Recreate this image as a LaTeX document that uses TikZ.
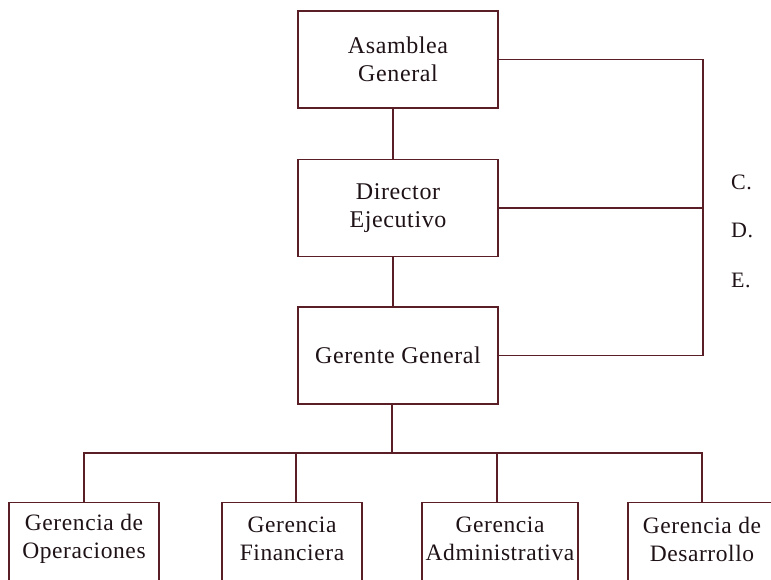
\documentclass[tikz,border=0pt]{standalone}
\usepackage{fontspec}
\setmainfont[LetterSpace=2.5]{Liberation Serif}
\definecolor{frame}{HTML}{5A1E27}
\definecolor{ink}{HTML}{1E1216}
\begin{document}
\begin{tikzpicture}[x=1pt,y=-1pt,
  wire/.style={draw=frame,line width=1.2pt},
  topbox/.style={wire,rectangle,minimum width=200,minimum height=97,
    align=center,text=ink,font=\fontsize{24}{28}\selectfont},
  lowbox/.style={wire,rectangle,anchor=north,minimum height=110},
  lowtext/.style={align=center,text=ink,inner sep=0pt,
    font=\fontsize{23.5}{28}\selectfont},
  sidetext/.style={anchor=west,inner sep=0pt,text=ink,
    font=\fontsize{22}{26}\selectfont}]
\useasboundingbox (0,0) rectangle (771,579);
\clip (0,0) rectangle (771,579);

% main chain
\node[topbox] (ag) at (398,59.5) {Asamblea\\General};
\node[topbox] (de) at (398,208) {Director\\Ejecutivo};
\node[topbox] (gg) at (398,355.5) {Gerente General};

\draw[wire] ([xshift=-5]ag.south) -- ([xshift=-5]de.north);
\draw[wire] ([xshift=-5]de.south) -- ([xshift=-5]gg.north);

% side committee line
\coordinate (rt) at (703,60);
\draw[wire] (ag.east) -- (ag.east -| rt) -- (gg.east -| rt) -- (gg.east);
\draw[wire] (de.east) -- (de.east -| rt);
\node[sidetext] (c) at (731,182) {C.};
\node[sidetext] (d) at (731,230) {D.};
\node[sidetext] (e) at (731,280) {E.};

% lower managements
\node[lowbox,minimum width=150] (op) at (84,502) {};
\node[lowbox,minimum width=140] (fi) at (292,502) {};
\node[lowbox,minimum width=156] (ad) at (500,502) {};
\node[lowbox,minimum width=148] (ds) at (702,502) {};

\node[lowtext] (opt) at (84,539) {Gerencia de\\Operaciones};
\node[lowtext] (fit) at (292,539) {Gerencia\\Financiera};
\node[lowtext] (adt) at (500,539) {Gerencia\\Administrativa};
\node[lowtext] (dst) at (702,539) {Gerencia de\\Desarrollo};

% distribution bus
\coordinate (bus) at (392,453);
\draw[wire] ([xshift=-6]gg.south) -- (bus);
\draw[wire] (op.north) -- (op.north |- bus) -- (ds.north |- bus) -- (ds.north);
\draw[wire] ([xshift=4]fi.north) -- ([xshift=4]fi.north |- bus);
\draw[wire] ([xshift=-3]ad.north) -- ([xshift=-3]ad.north |- bus);
\end{tikzpicture}
\end{document}
